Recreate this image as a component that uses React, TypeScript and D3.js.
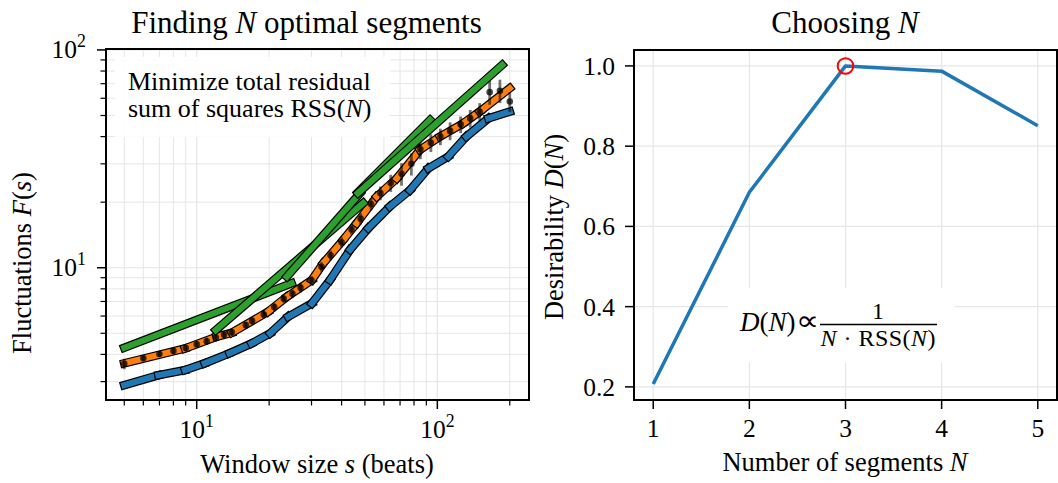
import React from 'react';
import * as d3 from 'd3';

const W = 1058;
const H = 483;
const FONT = "'Liberation Serif', 'Times New Roman', serif";

// ---------- Left panel data ----------
const dataS = [5, 6, 7, 8, 9, 10, 11, 12, 13, 14, 16, 17, 19, 21, 23, 25, 27, 30, 33, 36, 40, 44, 48, 53, 58, 64, 71, 78, 85, 94, 103, 113, 125, 137, 150, 165, 182, 200];
const dataF = [3.62, 3.84, 4.02, 4.15, 4.28, 4.45, 4.6, 4.78, 4.92, 5.05, 5.45, 5.7, 6.1, 6.6, 7.2, 7.6, 8.1, 8.75, 10.1, 11.4, 13.1, 15.0, 16.8, 19.6, 22.0, 24.5, 27.0, 30, 35, 37.5, 40, 42.5, 45.5, 48.5, 52, 64, 65, 58];
const dataErr = [0.2, 0.12, 0.12, 0.15, 0.15, 0.15, 0.18, 0.2, 0.2, 0.2, 0.2, 0.22, 0.25, 0.28, 0.3, 0.35, 0.4, 0.4, 0.5, 0.6, 0.7, 0.8, 1.0, 1.3, 1.6, 2.2, 3.2, 3.5, 3.5, 3.5, 3.5, 4, 4, 4.5, 5, 8, 8, 6];

const bluePts: [number, number][] = [[5, 2.89], [6.93, 3.21], [8.94, 3.39], [10.8, 3.64], [13.7, 4.05], [16.9, 4.49], [20.2, 5.0], [24.0, 5.96], [30.1, 6.86], [35.8, 8.78], [43.4, 12.1], [51.7, 15.2], [63.5, 19.1], [76.9, 22.7], [91.8, 28.6], [111, 32.4], [132, 40.0], [163, 48.5], [200, 52.1]];
const orangePts: [number, number][] = [[5, 3.64], [8.94, 4.26], [12.1, 4.82], [14, 5.03], [19.8, 6.28], [23.7, 7.36], [30.1, 8.78], [33.6, 10.5], [40.6, 13.4], [46.2, 16.0], [56, 21.2], [67.8, 25.7], [84.7, 34.8], [102.6, 40], [128, 46], [150, 52.1], [200, 66.7]];
const greenSegs: [number, number, number, number][] = [[5, 4.29, 24.8, 8.48], [12, 5.17, 49.2, 19.8], [23.7, 9.1, 47.8, 22.0], [46.8, 22.2, 93.3, 47.7], [46.8, 22.0, 186, 85.3]];

const xMajorL = [10, 100];
const xMinorL = [5, 6, 7, 8, 9, 20, 30, 40, 50, 60, 70, 80, 90, 200];
const yMajorL = [10, 100];
const yMinorL = [3, 4, 5, 6, 7, 8, 9, 20, 30, 40, 50, 60, 70, 80, 90];

// ---------- Right panel data ----------
const nValues = [1, 2, 3, 4, 5];
const desirability = [0.207, 0.685, 1.0, 0.987, 0.851];
const bestIndex = 2;
const xTicksR = [1, 2, 3, 4, 5];
const yTicksR = [0.2, 0.4, 0.6, 0.8, 1.0];

const BLUE = '#1f77b4';
const ORANGE = '#ff7f0e';
const GREEN = '#2ca02c';
const GRID = '#e6e6e6';

const L = { x0: 106, x1: 529, y0: 49, y1: 400 };
const R = { x0: 634, x1: 1057, y0: 50, y1: 400 };

const xL = d3.scaleLog().domain([4.198, 240.4]).range([L.x0, L.x1]);
const yL = d3.scaleLog().domain([2.47, 101]).range([L.y1, L.y0]);
const xR = d3.scaleLinear().domain([0.8, 5.2]).range([R.x0, R.x1]);
const yR = d3.scaleLinear().domain([0.1673, 1.0397]).range([R.y1, R.y0]);

function Seg({ a, b, color }: { a: [number, number]; b: [number, number]; color: string }) {
  const x1 = xL(a[0]), y1 = yL(a[1]), x2 = xL(b[0]), y2 = yL(b[1]);
  return (
    <g>
      <line x1={x1} y1={y1} x2={x2} y2={y2} stroke="#000" strokeWidth={8.6} strokeLinecap="square" />
      <line x1={x1} y1={y1} x2={x2} y2={y2} stroke={color} strokeWidth={6.2} strokeLinecap="square" />
    </g>
  );
}

function Pow({ x, y, exp, anchor, size }: { x: number; y: number; exp: string; anchor: 'middle' | 'end'; size: number }) {
  return (
    <text x={x} y={y} textAnchor={anchor} fontSize={size} fontFamily={FONT} fill="#000">
      10<tspan dy={-11} fontSize={size * 0.7}>{exp}</tspan>
    </text>
  );
}

export default function App() {
  const tick = 25.5;
  const lab = 26.5;
  const line = d3.line<number>().x((_, i) => xR(nValues[i])).y((d) => yR(d));

  return (
    <svg width={W} height={H} style={{ position: 'absolute', left: 0, top: 0, background: '#fff' }}>
      <rect x={0} y={0} width={W} height={H} fill="#fff" />
      {/* ================= LEFT PANEL ================= */}
      <g>
        {xMinorL.map((v) => (
          <line key={'gxm' + v} x1={xL(v)} x2={xL(v)} y1={L.y0} y2={L.y1} stroke={GRID} strokeWidth={1} />
        ))}
        {yMinorL.map((v) => (
          <line key={'gym' + v} y1={yL(v)} y2={yL(v)} x1={L.x0} x2={L.x1} stroke={GRID} strokeWidth={1} />
        ))}
        {xMajorL.map((v) => (
          <line key={'gxM' + v} x1={xL(v)} x2={xL(v)} y1={L.y0} y2={L.y1} stroke={GRID} strokeWidth={1.2} />
        ))}
        {yMajorL.map((v) => (
          <line key={'gyM' + v} y1={yL(v)} y2={yL(v)} x1={L.x0} x2={L.x1} stroke={GRID} strokeWidth={1.2} />
        ))}

        <rect x={115} y={57} width={275} height={80} fill="#fff" fillOpacity={0.9} />
        <text x={128} y={90} fontSize={26} fontFamily={FONT}>Minimize total residual</text>
        <text x={128} y={117} fontSize={26} fontFamily={FONT}>
          sum of squares RSS(<tspan fontStyle="italic">N</tspan>)
        </text>

        {bluePts.slice(1).map((p, i) => (
          <Seg key={'b' + i} a={bluePts[i]} b={p} color={BLUE} />
        ))}
        {orangePts.slice(1).map((p, i) => (
          <Seg key={'o' + i} a={orangePts[i]} b={p} color={ORANGE} />
        ))}
        {dataS.map((s, i) => (
          <g key={'d' + i}>
            <line x1={xL(s)} x2={xL(s)} y1={yL(dataF[i] - dataErr[i])} y2={yL(dataF[i] + dataErr[i])} stroke="#000" strokeOpacity={0.55} strokeWidth={2.8} />
            <circle cx={xL(s)} cy={yL(dataF[i])} r={3.3} fill="#000" fillOpacity={0.72} />
          </g>
        ))}
        {greenSegs.map((g, i) => (
          <Seg key={'g' + i} a={[g[0], g[1]]} b={[g[2], g[3]]} color={GREEN} />
        ))}

        <rect x={L.x0} y={L.y0} width={L.x1 - L.x0} height={L.y1 - L.y0} fill="none" stroke="#000" strokeWidth={2} />
        {xMajorL.map((v) => (
          <line key={'txM' + v} x1={xL(v)} x2={xL(v)} y1={L.y1} y2={L.y1 + 9} stroke="#000" strokeWidth={1.5} />
        ))}
        {xMinorL.map((v) => (
          <line key={'txm' + v} x1={xL(v)} x2={xL(v)} y1={L.y1} y2={L.y1 + 5.5} stroke="#000" strokeWidth={1.2} />
        ))}
        {yMajorL.map((v) => (
          <line key={'tyM' + v} y1={yL(v)} y2={yL(v)} x1={L.x0} x2={L.x0 - 9} stroke="#000" strokeWidth={1.5} />
        ))}
        {yMinorL.map((v) => (
          <line key={'tym' + v} y1={yL(v)} y2={yL(v)} x1={L.x0} x2={L.x0 - 5.5} stroke="#000" strokeWidth={1.2} />
        ))}
        {xMajorL.map((v) => (
          <Pow key={'lx' + v} x={xL(v)} y={438} exp={String(Math.round(Math.log10(v)))} anchor="middle" size={tick} />
        ))}
        {yMajorL.map((v) => (
          <Pow key={'ly' + v} x={86} y={yL(v) + 8} exp={String(Math.round(Math.log10(v)))} anchor="end" size={tick} />
        ))}
        <text x={317} y={473} textAnchor="middle" fontSize={lab} fontFamily={FONT}>
          Window size <tspan fontStyle="italic">s</tspan> (beats)
        </text>
        <text transform="translate(31,263) rotate(-90)" textAnchor="middle" fontSize={lab} fontFamily={FONT}>
          Fluctuations <tspan fontStyle="italic">F</tspan>(<tspan fontStyle="italic">s</tspan>)
        </text>
        <text x={306.5} y={33} textAnchor="middle" fontSize={31} fontFamily={FONT}>
          Finding <tspan fontStyle="italic">N</tspan> optimal segments
        </text>
      </g>

      {/* ================= RIGHT PANEL ================= */}
      <g>
        {xTicksR.map((v) => (
          <line key={'rgx' + v} x1={xR(v)} x2={xR(v)} y1={R.y0} y2={R.y1} stroke={GRID} strokeWidth={1.2} />
        ))}
        {yTicksR.map((v) => (
          <line key={'rgy' + v} y1={yR(v)} y2={yR(v)} x1={R.x0} x2={R.x1} stroke={GRID} strokeWidth={1.2} />
        ))}
        <rect x={728} y={288} width={227} height={75} fill="#fff" fillOpacity={0.9} />
        <path d={line(desirability) || ''} fill="none" stroke={BLUE} strokeWidth={3.5} strokeLinejoin="round" />
        <circle cx={xR(nValues[bestIndex])} cy={yR(desirability[bestIndex])} r={7.8} fill="none" stroke="#ff0000" strokeWidth={2} />

        {/* formula */}
        <text x={740} y={331} fontSize={27} fontFamily={FONT}>
          <tspan fontStyle="italic">D</tspan>(<tspan fontStyle="italic">N</tspan>)
        </text>
        <text transform="translate(796,330) scale(1.35,1.15)" fontSize={24} fontFamily="'DejaVu Sans', sans-serif">∝</text>
        <line x1={820} x2={937} y1={324.5} y2={324.5} stroke="#000" strokeWidth={1.3} />
        <text x={878} y={319} textAnchor="middle" fontSize={24} fontFamily={FONT}>1</text>
        <text x={878} y={346} textAnchor="middle" fontSize={24} fontFamily={FONT} textLength={115} lengthAdjust="spacing">
          <tspan fontStyle="italic">N</tspan> · RSS(<tspan fontStyle="italic">N</tspan>)
        </text>

        <rect x={R.x0} y={R.y0} width={R.x1 - R.x0} height={R.y1 - R.y0} fill="none" stroke="#000" strokeWidth={2} />
        {xTicksR.map((v) => (
          <g key={'rtx' + v}>
            <line x1={xR(v)} x2={xR(v)} y1={R.y1} y2={R.y1 + 9} stroke="#000" strokeWidth={1.5} />
            <text x={xR(v)} y={437} textAnchor="middle" fontSize={tick} fontFamily={FONT}>{v}</text>
          </g>
        ))}
        {yTicksR.map((v) => (
          <g key={'rty' + v}>
            <line y1={yR(v)} y2={yR(v)} x1={R.x0} x2={R.x0 - 9} stroke="#000" strokeWidth={1.5} />
            <text x={615} y={yR(v) + 9} textAnchor="end" fontSize={tick} fontFamily={FONT}>{v.toFixed(1)}</text>
          </g>
        ))}
        <text x={845} y={471} textAnchor="middle" fontSize={lab} fontFamily={FONT}>
          Number of segments <tspan fontStyle="italic">N</tspan>
        </text>
        <text transform="translate(563,227) rotate(-90)" textAnchor="middle" fontSize={lab} fontFamily={FONT}>
          Desirability <tspan fontStyle="italic">D</tspan>(<tspan fontStyle="italic">N</tspan>)
        </text>
        <text x={845} y={33} textAnchor="middle" fontSize={31} fontFamily={FONT}>
          Choosing <tspan fontStyle="italic">N</tspan>
        </text>
      </g>
    </svg>
  );
}
